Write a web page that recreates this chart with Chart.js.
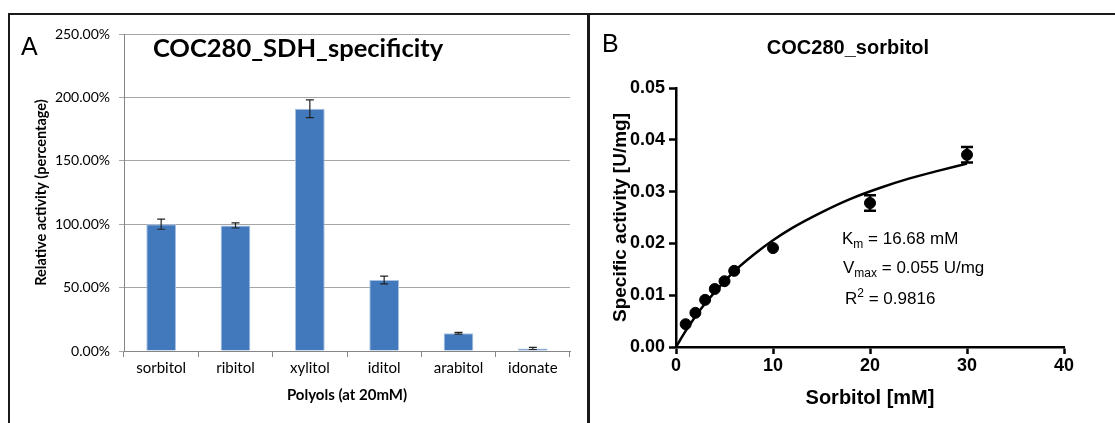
<!DOCTYPE html>
<html>
<head>
<meta charset="utf-8">
<script src="https://cdn.jsdelivr.net/npm/chart.js@4"></script>
<style>
  body { margin: 0; width: 1115px; height: 423px; overflow: hidden; background: #fff; position: relative; }
  .panel { position: absolute; box-sizing: border-box; border: 2px solid #1a1a1a; height: 440px; }
  .txt { position: absolute; white-space: nowrap; line-height: 1; color: #000; }
  canvas { position: absolute; }
  .sub { font-size: 12px; position: relative; top: 4px; }
  .sup { font-size: 12px; position: relative; top: -7px; }
</style>
</head>
<body>
<div class="panel" style="left:8px; top:13px; width:582px;"></div>
<div class="panel" style="left:587px; top:13px; width:560px;"></div>

<canvas id="chartA" width="576" height="407" style="left:10px; top:16px;"></canvas>
<canvas id="chartB" width="524" height="407" style="left:591px; top:16px;"></canvas>

<div class="txt" style="left:21px; top:32px; font:25px 'Liberation Sans';">A</div>
<div class="txt" style="left:298px; top:47px; transform:translate(-50%,-50%); font:bold 25.5px Lato;">COC280_SDH_specificity</div>
<div class="txt" style="left:602px; top:29px; font:25px 'Liberation Sans';">B</div>
<div class="txt" style="left:848px; top:47px; transform:translate(-50%,-50%); font:bold 20px 'Liberation Sans';">COC280_sorbitol</div>

<div class="txt" style="left:842px; top:229px; font:17px 'Liberation Sans';">K<span class="sub">m</span> = 16.68 mM</div>
<div class="txt" style="left:843px; top:258px; font:17px 'Liberation Sans';">V<span class="sub">max</span> = 0.055 U/mg</div>
<div class="txt" style="left:845px; top:289px; font:17px 'Liberation Sans';">R<span class="sup">2</span> = 0.9816</div>

<script>
// ---- panel A: substrate specificity ----
const polyols = ['sorbitol', 'ribitol', 'xylitol', 'iditol', 'arabitol', 'idonate'];
const relActivity = [100, 99, 191, 56, 14, 2];
const relActivityErr = [4, 2, 7, 3, 0.7, 0.8];
const relTicks = [0, 50, 100, 150, 200, 250];

// ---- panel B: sorbitol kinetics ----
const sorbitolMM = [1, 2, 3, 4, 5, 6, 10, 20, 30];
const specActivity = [0.0044, 0.0066, 0.0091, 0.0112, 0.0127, 0.0147, 0.0191, 0.0278, 0.0371];
const specActivityErr = [0, 0, 0, 0, 0, 0, 0, 0.0015, 0.0015];
// fitted curve (Km 16.68 mM, Vmax 0.055 U/mg)
const fitMM = [0, 1, 2, 3, 4, 6, 8, 10, 12, 15, 18, 21, 24, 27, 30];
const fitActivity = [0, 0.0031, 0.0059, 0.0084, 0.0106, 0.0146, 0.0178, 0.0206, 0.0230, 0.0260, 0.0286, 0.0307, 0.0325, 0.0340, 0.0354];
const xTicksB = [0, 10, 20, 30, 40];
const yTicksB = [0, 0.01, 0.02, 0.03, 0.04, 0.05];

// error bars, drawn from dataset.errors through the chart scales
const errorBars = {
  id: 'errorBars',
  afterDatasetsDraw(chart) {
    const ctx = chart.ctx;
    const yScale = chart.scales.y;
    chart.data.datasets.forEach((ds, i) => {
      if (!ds.errors) return;
      const meta = chart.getDatasetMeta(i);
      const st = ds.errorStyle;
      ctx.save();
      ctx.strokeStyle = st.color;
      ctx.lineWidth = st.width;
      meta.data.forEach((el, j) => {
        const e = ds.errors[j];
        if (!e) return;
        const raw = ds.data[j];
        const v = typeof raw === 'object' ? raw.y : raw;
        const x = el.x;
        const yTop = yScale.getPixelForValue(v + e);
        const yBot = yScale.getPixelForValue(v - e);
        ctx.beginPath();
        ctx.moveTo(x, yTop); ctx.lineTo(x, yBot);
        ctx.moveTo(x - st.cap, yTop); ctx.lineTo(x + st.cap, yTop);
        ctx.moveTo(x - st.cap, yBot); ctx.lineTo(x + st.cap, yBot);
        ctx.stroke();
      });
      ctx.restore();
    });
  }
};

new Chart(document.getElementById('chartA'), {
  type: 'bar',
  data: {
    labels: polyols,
    datasets: [{
      data: relActivity,
      errors: relActivityErr,
      errorStyle: { color: '#222', width: 1.2, cap: 4 },
      backgroundColor: '#4279BD',
      borderColor: '#A9C1E2',
      borderWidth: 1,
      barPercentage: 0.4,
      categoryPercentage: 1.0
    }]
  },
  options: {
    responsive: false,
    animation: false,
    layout: { padding: { top: 18, right: 16, left: 0, bottom: 0 } },
    plugins: { legend: { display: false }, tooltip: { enabled: false } },
    scales: {
      x: {
        offset: true,
        grid: { offset: true, drawOnChartArea: false, tickLength: 6, color: '#868686' },
        border: { color: '#868686' },
        ticks: { font: { family: 'Lato', size: 15 }, color: '#000', padding: 2, maxRotation: 0 },
        title: { display: true, text: 'Polyols (at 20mM)', font: { family: 'Lato', size: 15, weight: 'bold' }, color: '#000', padding: { top: 0, bottom: 19 } },
        afterFit: s => { s.height = 72; }
      },
      y: {
        min: 0, max: 250,
        afterBuildTicks: s => { s.ticks = relTicks.map(v => ({ value: v })); },
        grid: { color: '#A6A6A6', tickLength: 5 },
        border: { color: '#868686' },
        ticks: { font: { family: 'Lato', size: 14 }, color: '#000', padding: 9, callback: v => v.toFixed(2) + '%' },
        title: { display: true, text: 'Relative activity (percentage)', font: { family: 'Lato', size: 14.5, weight: 'bold' }, color: '#000', padding: { top: 23, bottom: 0 } },
        afterFit: s => { s.width = 114; }
      }
    }
  },
  plugins: [errorBars]
});

const axisFont = { family: 'Liberation Sans', size: 18, weight: 'bold' };
const titleFont = { family: 'Liberation Sans', size: 20, weight: 'bold' };

new Chart(document.getElementById('chartB'), {
  type: 'scatter',
  data: {
    datasets: [{
      type: 'line',
      data: fitMM.map((x, i) => ({ x: x, y: fitActivity[i] })),
      borderColor: '#000',
      borderWidth: 2.5,
      pointRadius: 0,
      cubicInterpolationMode: 'monotone',
      fill: false,
      order: 2
    }, {
      data: sorbitolMM.map((x, i) => ({ x: x, y: specActivity[i] })),
      errors: specActivityErr,
      errorStyle: { color: '#000', width: 2.5, cap: 6 },
      backgroundColor: '#000',
      borderColor: '#000',
      pointRadius: 5.5,
      order: 1
    }]
  },
  options: {
    responsive: false,
    animation: false,
    layout: { padding: { top: 72, right: 51, left: 0, bottom: 0 } },
    plugins: { legend: { display: false }, tooltip: { enabled: false } },
    scales: {
      x: {
        type: 'linear', min: 0, max: 40,
        afterBuildTicks: s => { s.ticks = xTicksB.map(v => ({ value: v })); },
        grid: { drawOnChartArea: false, tickLength: 7, tickColor: '#000', tickWidth: 2.5 },
        border: { color: '#000', width: 2.5 },
        ticks: { font: axisFont, color: '#000', padding: 1 },
        title: { display: true, text: 'Sorbitol [mM]', font: titleFont, color: '#000', padding: { top: 0, bottom: 13 } },
        afterFit: s => { s.height = 76; }
      },
      y: {
        min: 0, max: 0.05,
        afterBuildTicks: s => { s.ticks = yTicksB.map(v => ({ value: v })); },
        grid: { drawOnChartArea: false, tickLength: 7, tickColor: '#000', tickWidth: 2.5 },
        border: { color: '#000', width: 2.5 },
        ticks: { font: axisFont, color: '#000', padding: 4, callback: v => v.toFixed(2) },
        title: { display: true, text: 'Specific activity [U/mg]', font: { family: 'Liberation Sans', size: 19, weight: 'bold' }, color: '#000', padding: { top: 18, bottom: 0 } },
        afterFit: s => { s.width = 85; }
      }
    }
  },
  plugins: [errorBars]
});
</script>
</body>
</html>
